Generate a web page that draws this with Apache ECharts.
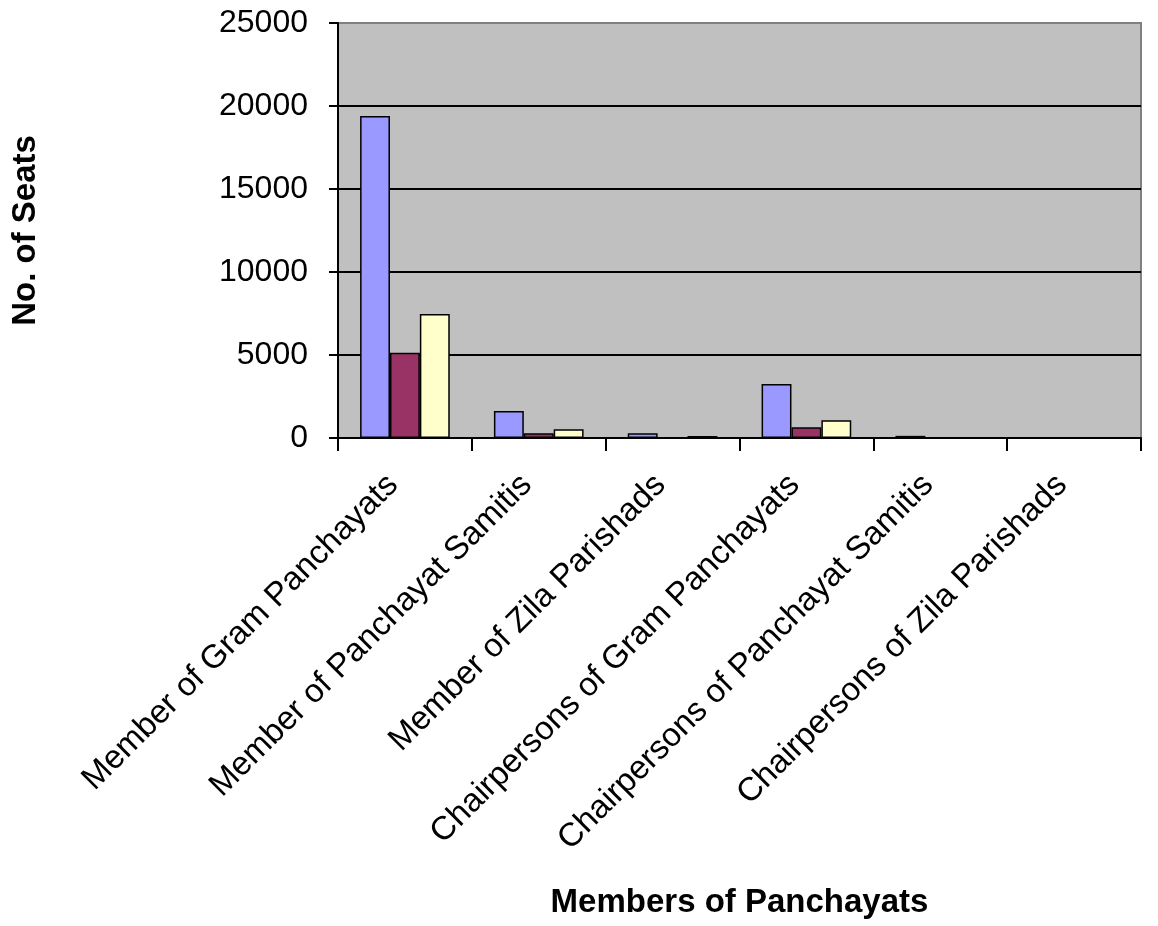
<!DOCTYPE html>
<html>
<head>
<meta charset="utf-8">
<script src="https://cdn.jsdelivr.net/npm/echarts@6/dist/echarts.min.js"></script>
<style>html,body{margin:0;padding:0;background:#fff;}#c{width:1158px;height:926px;}</style>
</head>
<body>
<div id="c"></div>
<script>
const categories = [
  'Member of Gram Panchayats',
  'Member of Panchayat Samitis',
  'Member of Zila Parishads',
  'Chairpersons of Gram Panchayats',
  'Chairpersons of Panchayat Samitis',
  'Chairpersons of Zila Parishads'
];
const seriesA = [19400, 1620, 280, 3250, 130, 0];
const seriesB = [5140, 280, 0, 645, 0, 0];
const seriesC = [7470, 525, 120, 1065, 0, 0];
const yTicks = { min: 0, max: 25000, interval: 5000 };

const chart = echarts.init(document.getElementById('c'));
const font = 'Liberation Sans, Arial, sans-serif';
function bar(name, data, color) {
  return {
    name: name, type: 'bar', data: data,
    barGap: '0%', barCategoryGap: '33%',
    itemStyle: { color: color, borderColor: '#000', borderWidth: 1.5 },
    emphasis: { disabled: true }
  };
}
chart.setOption({
  animation: false,
  grid: {
    left: 338, right: 17, top: 23, bottom: 488,
    show: true, backgroundColor: '#C0C0C0', borderColor: '#808080', borderWidth: 2
  },
  xAxis: {
    type: 'category', data: categories,
    name: 'Members of Panchayats', nameLocation: 'middle', nameGap: 448,
    nameTextStyle: { fontFamily: font, fontSize: 33, fontWeight: 'bold', color: '#000' },
    axisLine: { lineStyle: { color: '#000', width: 2 } },
    axisTick: { show: true, length: 13, inside: false, alignWithLabel: false, lineStyle: { color: '#000', width: 2 } },
    axisLabel: { rotate: 45, interval: 0, margin: 30, padding: [0, 17, 0, 0], fontFamily: font, fontSize: 33, color: '#000' },
    splitLine: { show: false }
  },
  yAxis: {
    type: 'value', min: yTicks.min, max: yTicks.max, interval: yTicks.interval,
    name: 'No. of Seats', nameLocation: 'middle', nameGap: 296, nameRotate: 90,
    nameTextStyle: { fontFamily: font, fontSize: 33, fontWeight: 'bold', color: '#000' },
    axisLine: { show: true, lineStyle: { color: '#000', width: 2 } },
    axisTick: { show: true, length: 9, lineStyle: { color: '#000', width: 2 } },
    axisLabel: { margin: 30, fontFamily: font, fontSize: 32, color: '#000', formatter: function (v) { return String(v); } },
    splitLine: { show: true, showMaxLine: false, lineStyle: { color: '#000', width: 2 } }
  },
  series: [
    bar('Series 1', seriesA, '#9999FF'),
    bar('Series 2', seriesB, '#993366'),
    bar('Series 3', seriesC, '#FFFFCC')
  ]
});
</script>
</body>
</html>
